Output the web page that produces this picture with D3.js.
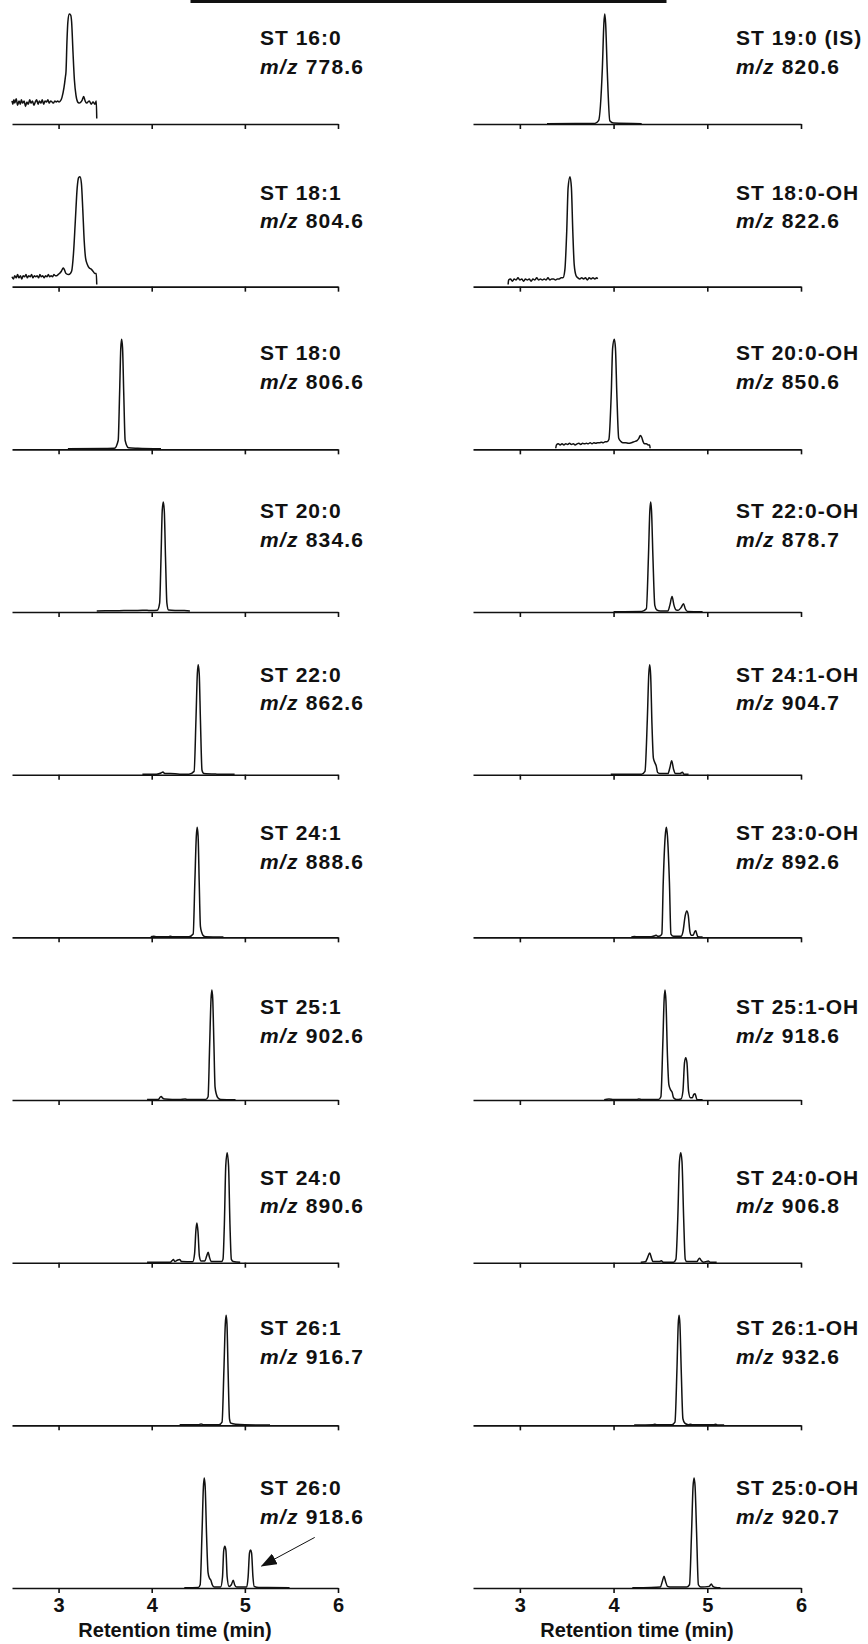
<!DOCTYPE html>
<html lang="en">
<head>
  <meta charset="UTF-8">
  <title>Sulfatide chromatograms</title>
  <style>
    html, body {
      margin: 0;
      overflow: hidden;
      width: 100%;
      height: 100%;
      background: white;
    }
    svg {
      position: absolute;
      top: 0;
      left: 0;
      background: white;
    }
    text {
      font-family: "Liberation Sans", Arial, sans-serif;
      font-weight: bold;
      fill: #111;
    }
  </style>
</head>
<body>
  <svg width="868" height="1644"></svg>
</body>
<script src="https://cdn.jsdelivr.net/npm/d3@7"></script>
<script type="text/javascript">
  // ---- data: retention time (min) vs. relative intensity (%) ----
  const xDomain = [2.5, 6]
  const tickValues = [3, 4, 5, 6]
  const axisTitle = 'Retention time (min)'

  const leftNames = ['ST 16:0', 'ST 18:1', 'ST 18:0', 'ST 20:0', 'ST 22:0',
    'ST 24:1', 'ST 25:1', 'ST 24:0', 'ST 26:1', 'ST 26:0']
  const leftMz = ['778.6', '804.6', '806.6', '834.6', '862.6',
    '888.6', '902.6', '890.6', '916.7', '918.6']
  const rightNames = ['ST 19:0 (IS)', 'ST 18:0-OH', 'ST 20:0-OH', 'ST 22:0-OH', 'ST 24:1-OH',
    'ST 23:0-OH', 'ST 25:1-OH', 'ST 24:0-OH', 'ST 26:1-OH', 'ST 25:0-OH']
  const rightMz = ['820.6', '822.6', '850.6', '878.7', '904.7',
    '892.6', '918.6', '906.8', '932.6', '920.7']

  const st16_0 = [[2.50,21],[2.51,18],[2.52,22],[2.53,19],[2.545,23],[2.56,17],[2.575,21],[2.59,18],
    [2.60,22],[2.615,19],[2.63,21],[2.645,16],[2.66,20],[2.675,18],[2.69,22],[2.705,19],[2.72,21],
    [2.735,17],[2.75,20],[2.765,22],[2.78,18],[2.795,21],[2.81,19],[2.825,22],[2.84,18],[2.855,21],
    [2.87,20],[2.885,22],[2.90,19],[2.915,21],[2.93,20],[2.945,19],[2.96,21],[2.975,20],[2.99,21],
    [3.005,20],[3.02,21],[3.036,24],[3.058,33],[3.072,42],[3.08,48],[3.09,75],[3.10,93],[3.115,100],
    [3.13,99],[3.14,93],[3.155,65],[3.17,40],[3.187,26],[3.205,20],[3.22,19],[3.24,20],[3.255,22],
    [3.27,25],[3.285,21],[3.30,19],[3.315,20],[3.33,21],[3.35,18],[3.37,20],[3.39,18],[3.405,21],[3.41,5]]
  const st18_1 = [[2.50,9],[2.515,7],[2.53,10],[2.545,8],[2.56,11],[2.575,8],[2.59,10],[2.605,7],
    [2.62,10],[2.635,9],[2.65,11],[2.665,8],[2.68,10],[2.695,9],[2.71,11],[2.725,8],[2.74,10],[2.755,9],
    [2.77,10],[2.785,8],[2.80,11],[2.815,9],[2.83,10],[2.845,8],[2.86,10],[2.875,9],[2.89,11],[2.905,9],
    [2.92,10],[2.935,9],[2.95,11],[2.965,10],[2.98,10],[2.995,11],[3.01,12],[3.03,14],[3.05,17],[3.06,16],
    [3.08,12],[3.11,11],[3.14,14],[3.16,30],[3.18,60],[3.20,90],[3.215,99],[3.23,100],[3.245,94],
    [3.26,70],[3.275,42],[3.29,26],[3.31,20],[3.33,17],[3.35,16],[3.37,14],[3.39,12],[3.405,12],[3.41,2]]
  const st18_0 = [[3.10,0.5],[3.50,0.8],[3.60,1],[3.64,8],[3.655,50],[3.668,92],[3.677,100],
    [3.687,92],[3.70,50],[3.715,8],[3.75,1.5],[3.85,1],[4.10,0.5]]
  const st20_0 = [[3.41,1],[3.50,1.2],[3.60,1.1],[3.70,1.4],[3.80,1.3],[3.90,1.6],[3.95,1.5],[4.00,1.4],
    [4.06,1.6],[4.085,8],[4.10,50],[4.113,92],[4.124,100],[4.135,92],[4.148,50],[4.163,8],[4.18,1.8],
    [4.25,1.4],[4.35,1.3],[4.41,1]]
  const st22_0 = [[3.90,0.5],[4.05,0.5],[4.10,1.5],[4.12,2.5],[4.14,1],[4.20,1],[4.30,0.5],[4.40,0.5],
    [4.455,3],[4.475,50],[4.49,92],[4.499,100],[4.51,92],[4.523,50],[4.54,4],[4.56,1],[4.70,0.5],[4.89,0.3]]
  const st24_1 = [[3.99,0.5],[4.02,1],[4.05,0.5],[4.18,0.5],[4.20,1],[4.22,0.5],[4.40,0.5],[4.445,3],
    [4.463,50],[4.479,92],[4.488,100],[4.498,92],[4.51,50],[4.523,10],[4.535,5],[4.55,2],[4.58,0.5],[4.77,0.3]]
  const st25_1 = [[3.95,0.5],[4.07,0.5],[4.09,2.5],[4.102,3.2],[4.115,2],[4.14,1],[4.30,0.5],[4.36,1],
    [4.38,0.5],[4.58,0.5],[4.605,3],[4.622,50],[4.637,92],[4.646,100],[4.655,92],[4.668,50],[4.68,12],
    [4.695,5],[4.71,2],[4.74,0.5],[4.90,0.3]]
  const st24_0 = [[3.95,0.5],[4.20,0.5],[4.22,2],[4.232,2.8],[4.25,1],[4.26,1.5],[4.28,2.5],[4.30,2.8],
    [4.32,1],[4.44,0.8],[4.46,8],[4.475,30],[4.485,36],[4.497,28],[4.512,6],[4.53,1.5],[4.57,1.5],
    [4.59,6],[4.606,9.5],[4.62,5],[4.64,1],[4.75,1],[4.765,3],[4.78,35],[4.795,88],[4.81,100],
    [4.825,88],[4.84,35],[4.855,3],[4.875,1],[4.95,0.3]]
  const st26_1 = [[4.30,0.5],[4.50,0.5],[4.53,1.2],[4.56,0.5],[4.72,0.5],[4.755,3],[4.775,50],[4.79,92],
    [4.799,100],[4.808,92],[4.82,50],[4.835,6],[4.85,2],[4.90,1],[5.0,0.5],[5.27,0.3]]
  const st26_0 = [[4.35,0.3],[4.50,0.5],[4.52,3],[4.54,50],[4.555,92],[4.564,100],[4.574,92],[4.59,45],
    [4.605,14],[4.62,9],[4.635,7],[4.65,3],[4.67,1],[4.74,1],[4.76,10],[4.773,34],[4.785,38],[4.797,34],
    [4.81,10],[4.83,1.5],[4.855,3],[4.875,7],[4.89,3],[4.91,1],[5.02,1],[5.035,10],[5.05,32],[5.061,34.5],
    [5.072,32],[5.087,10],[5.10,1.5],[5.15,0.5],[5.48,0.3]]

  const st19_0 = [[3.29,0.3],[3.60,0.5],[3.80,0.5],[3.84,3],[3.88,50],[3.897,92],[3.906,100],
    [3.915,92],[3.932,50],[3.96,3],[4.00,0.8],[4.30,0.3]]
  const st18_0oh = [[2.875,2],[2.88,6],[2.90,7],[2.92,5],[2.94,7],[2.96,6],[2.98,8],[3.00,6],[3.02,7],
    [3.04,5],[3.06,7],[3.08,6],[3.10,7],[3.12,5],[3.14,7],[3.16,6],[3.18,8],[3.20,6],[3.22,7],[3.24,6],
    [3.26,7],[3.28,6],[3.30,8],[3.32,6],[3.34,7],[3.36,7],[3.38,6],[3.40,7],[3.42,7],[3.44,8],[3.46,8],
    [3.48,15],[3.50,50],[3.515,90],[3.535,100],[3.55,90],[3.565,50],[3.58,20],[3.60,10],[3.62,8],
    [3.64,7],[3.66,8],[3.68,7],[3.70,8],[3.72,6],[3.74,8],[3.76,7],[3.78,8],[3.80,7],[3.82,8],[3.83,7]]
  const st20_0oh = [[3.383,1],[3.39,4],[3.41,5],[3.43,4],[3.45,5],[3.47,4],[3.49,5],[3.51,4.5],[3.53,5.5],
    [3.55,4.5],[3.57,5],[3.59,4],[3.61,5],[3.63,5.5],[3.65,4.5],[3.67,5.5],[3.69,5],[3.71,5.5],[3.73,5],
    [3.75,6],[3.77,5],[3.79,6],[3.81,5.5],[3.83,6],[3.85,6],[3.87,6.5],[3.89,6],[3.91,7],[3.93,7],
    [3.95,9],[3.975,50],[3.99,92],[4.008,100],[4.02,92],[4.035,50],[4.055,10],[4.08,7],[4.10,6],
    [4.13,6],[4.16,5.5],[4.19,6],[4.22,7],[4.25,8],[4.27,10],[4.285,12.5],[4.30,11],[4.315,7],[4.33,5],
    [4.35,5],[4.37,4],[4.385,4],[4.39,1]]
  const st22_0oh = [[4.00,0.3],[4.30,0.5],[4.35,3],[4.372,50],[4.387,92],[4.396,100],[4.405,92],
    [4.42,50],[4.44,6],[4.46,2],[4.50,1],[4.58,1],[4.60,6],[4.624,14],[4.645,6],[4.665,2],[4.69,1.5],
    [4.72,4],[4.746,7.6],[4.765,3],[4.79,0.5],[4.95,0.3]]
  const st24_1oh = [[3.97,0.3],[4.20,0.5],[4.30,0.5],[4.335,3],[4.36,50],[4.376,92],[4.386,100],
    [4.396,90],[4.41,45],[4.425,15],[4.44,11],[4.455,8],[4.47,2],[4.50,1],[4.58,1],[4.60,6],[4.62,12.7],
    [4.64,5],[4.66,1],[4.71,1],[4.734,2.2],[4.75,0.5],[4.80,0.3]]
  const st23_0oh = [[4.19,0.3],[4.22,0.8],[4.26,0.5],[4.40,0.5],[4.44,1.5],[4.455,2],[4.47,1],[4.50,1.5],
    [4.515,3],[4.53,50],[4.551,92],[4.563,100],[4.575,92],[4.596,50],[4.612,3],[4.64,1],[4.72,1],
    [4.74,5],[4.765,20],[4.781,24],[4.797,20],[4.815,5],[4.83,2],[4.85,2],[4.865,5],[4.877,6],[4.888,3],
    [4.90,0.5],[4.95,0.3]]
  const st25_1oh = [[3.90,0.3],[3.95,1],[4.00,0.5],[4.25,0.5],[4.27,1],[4.30,0.5],[4.48,0.5],[4.505,3],
    [4.525,50],[4.54,92],[4.549,100],[4.559,90],[4.575,40],[4.59,14],[4.61,9],[4.625,7],[4.64,2],
    [4.67,0.5],[4.72,1],[4.74,8],[4.757,34],[4.77,38.5],[4.783,34],[4.80,8],[4.82,2],[4.84,2],
    [4.855,5],[4.869,5.8],[4.88,3],[4.89,0.5],[4.95,0.3]]
  const st24_0oh = [[4.29,0.3],[4.34,0.8],[4.36,4],[4.386,8.7],[4.405,4],[4.42,1],[4.49,1],[4.51,1.8],
    [4.53,0.5],[4.64,0.5],[4.665,3],[4.685,40],[4.703,92],[4.717,100],[4.73,92],[4.748,40],[4.765,3],
    [4.78,1],[4.89,1],[4.905,3],[4.919,4],[4.935,2],[4.96,0.5],[4.99,1],[5.01,1.5],[5.03,0.5],[5.10,0.3]]
  const st26_1oh = [[4.22,0.3],[4.42,0.5],[4.44,1],[4.46,0.5],[4.62,0.5],[4.655,3],[4.676,50],[4.69,92],
    [4.699,100],[4.708,92],[4.722,50],[4.74,6],[4.76,2],[4.80,0.5],[4.82,1],[4.84,0.5],[5.07,0.5],
    [5.09,1],[5.11,0.3],[5.18,0.3]]
  const st25_0oh = [[4.20,0.3],[4.40,0.5],[4.50,1],[4.52,6],[4.538,10.6],[4.555,6],[4.575,1.5],[4.60,1],
    [4.70,1],[4.78,1],[4.81,3],[4.832,50],[4.848,92],[4.859,100],[4.87,92],[4.886,50],[4.905,3],
    [4.93,1],[5.02,1.5],[5.043,3.6],[5.06,1.5],[5.09,0.5],[5.14,0.3]]

  const leftTraces = [st16_0, st18_1, st18_0, st20_0, st22_0, st24_1, st25_1, st24_0, st26_1, st26_0]
  const rightTraces = [st19_0, st18_0oh, st20_0oh, st22_0oh, st24_1oh, st23_0oh, st25_1oh, st24_0oh, st26_1oh, st25_0oh]

  // arrow in the ST 26:0 panel (row 9, left), [time, intensity]
  const arrowFrom = [5.75, 46]
  const arrowTo = [5.18, 20]

  // ---- layout ----
  const svg = d3.select('svg')
  const rowTop = 124
  const rowStep = 162.67
  const peakHeight = 110
  // label rise above each row's axis (px)
  const labelRise = [79, 87, 89, 94, 93, 97, 86, 78, 90, 93]

  const columns = [
    { range: [12, 338], names: leftNames, mz: leftMz, traces: leftTraces, labelX: 260 },
    { range: [473, 801], names: rightNames, mz: rightMz, traces: rightTraces, labelX: 736 }
  ]

  svg.append('defs').append('marker')
    .attr('id', 'head')
    .attr('markerUnits', 'userSpaceOnUse')
    .attr('viewBox', '0 0 16 12')
    .attr('refX', 15)
    .attr('refY', 6)
    .attr('markerWidth', 16)
    .attr('markerHeight', 12)
    .attr('orient', 'auto')
    .append('path')
    .attr('d', 'M0,0 L16,6 L0,12 Z')
    .attr('fill', '#111')

  // cropped frame at the very top
  svg.append('rect')
    .attr('x', 192)
    .attr('y', -20)
    .attr('width', 473)
    .attr('height', 21.5)
    .attr('fill', 'white')
    .attr('stroke', '#111')
    .attr('stroke-width', 3)

  columns.forEach((col, ci) => {
    const x = d3.scaleLinear().domain(xDomain).range(col.range)

    col.traces.forEach((trace, i) => {
      const base = rowTop + i * rowStep
      const y = d3.scaleLinear().domain([0, 100]).range([base, base - peakHeight])
      const g = svg.append('g')

      const axis = d3.axisBottom(x)
        .tickValues(tickValues)
        .tickSize(5)
        .tickSizeOuter(0)
        .tickFormat(i === col.traces.length - 1 ? d3.format('d') : '')
      const ag = g.append('g')
        .attr('transform', `translate(0,${base})`)
        .call(axis)
      ag.select('.domain').attr('stroke', '#111').attr('stroke-width', 1.6)
      ag.selectAll('.tick line').attr('stroke', '#111').attr('stroke-width', 1.6)
      ag.selectAll('.tick text')
        .attr('y', 10)
        .attr('dy', '0.71em')
        .style('font-family', '"Liberation Sans", Arial, sans-serif')
        .style('font-weight', 'bold')
        .style('font-size', '20px')
        .attr('fill', '#111')

      const line = d3.line()
        .x(d => x(d[0]))
        .y(d => y(d[1]))
        .curve(d3.curveMonotoneX)

      g.append('path')
        .datum(trace)
        .attr('d', line)
        .attr('fill', 'none')
        .attr('stroke', '#111')
        .attr('stroke-width', 1.5)
        .attr('stroke-linejoin', 'round')

      const ly = base - labelRise[i]
      const label = g.append('g')
        .attr('transform', `translate(${col.labelX},0)`)
      label.append('text')
        .attr('x', 0)
        .attr('y', ly)
        .style('font-size', '21px')
        .style('letter-spacing', '1px')
        .text(col.names[i])
      const mz = label.append('text')
        .attr('x', 0)
        .attr('y', ly + 28.5)
        .style('font-size', '21px')
        .style('letter-spacing', '1.2px')
      mz.append('tspan').style('font-style', 'italic').text('m/z')
      mz.append('tspan').text(' ' + col.mz[i])

      if (ci === 0 && i === col.traces.length - 1) {
        g.append('line')
          .attr('x1', x(arrowFrom[0]))
          .attr('y1', y(arrowFrom[1]))
          .attr('x2', x(arrowTo[0]))
          .attr('y2', y(arrowTo[1]))
          .attr('stroke', '#111')
          .attr('stroke-width', 1)
          .attr('marker-end', 'url(#head)')
      }
    })

    svg.append('text')
      .attr('x', (col.range[0] + col.range[1]) / 2)
      .attr('y', 1637)
      .attr('text-anchor', 'middle')
      .style('font-size', '20px')
      .text(axisTitle)
  })
</script>
</html>
